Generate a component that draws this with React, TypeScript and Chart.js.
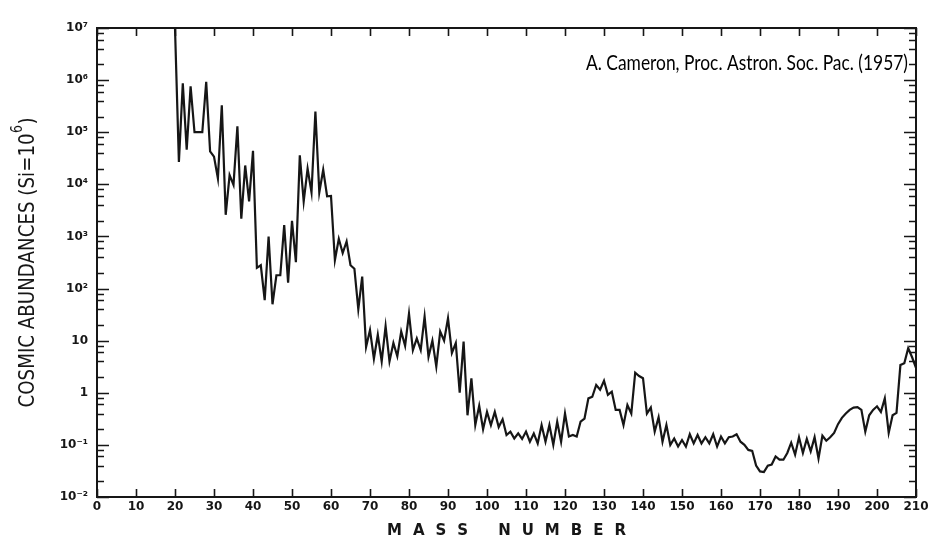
import { useEffect, useRef } from 'react';
import { Chart, registerables } from 'chart.js';

Chart.register(...registerables);

// Cosmic abundances (Si = 10^6) for mass numbers 20 through 210.
const firstMassNumber = 20;
const abundances: number[] = [
  // 20-29
  1.0e7, 2.7e4, 8.7e5, 4.6e4, 7.6e5, 1.0e5, 1.0e5, 1.0e5, 9.3e5, 4.3e4,
  // 30-39
  3.4e4, 1.3e4, 3.3e5, 2.6e3, 1.5e4, 9.8e3, 1.3e5, 2.2e3, 2.3e4, 4.7e3,
  // 40-49
  4.4e4, 250, 280, 60, 1000, 50, 180, 180, 1650, 130,
  // 50-59
  2000, 320, 3.6e4, 4.7e3, 2.0e4, 7.0e3, 2.5e5, 7.0e3, 1.9e4, 5.9e3,
  // 60-69
  6.0e3, 350, 900, 480, 800, 280, 240, 40, 170, 7.6,
  // 70-79
  16, 4.5, 13, 4, 19, 4, 9, 5, 15, 8,
  // 80-89
  33, 6.6, 11, 6.6, 29, 4.9, 10, 3.2, 15, 10,
  // 90-99
  27, 5.8, 9, 1.0, 9.6, 0.37, 1.9, 0.24, 0.56, 0.2,
  // 100-109
  0.43, 0.24, 0.43, 0.22, 0.31, 0.155, 0.18, 0.133, 0.166, 0.13,
  // 110-119
  0.18, 0.115, 0.166, 0.107, 0.24, 0.115, 0.24, 0.1, 0.28, 0.115,
  // 120-129
  0.4, 0.145, 0.155, 0.145, 0.28, 0.32, 0.78, 0.84, 1.41, 1.15,
  // 130-139
  1.7, 0.91, 1.05, 0.47, 0.47, 0.24, 0.58, 0.4, 2.43, 2.1,
  // 140-149
  1.9, 0.4, 0.52, 0.18, 0.34, 0.115, 0.24, 0.1, 0.133, 0.093,
  // 150-159
  0.124, 0.093, 0.16, 0.107, 0.155, 0.107, 0.14, 0.107, 0.16, 0.093,
  // 160-169
  0.145, 0.107, 0.14, 0.145, 0.16, 0.115, 0.1, 0.08, 0.077, 0.04,
  // 170-179
  0.031, 0.03, 0.04, 0.042, 0.06, 0.052, 0.052, 0.07, 0.11, 0.065,
  // 180-189
  0.14, 0.07, 0.13, 0.075, 0.14, 0.055, 0.15, 0.12, 0.14, 0.17,
  // 190-199
  0.25, 0.33, 0.4, 0.47, 0.52, 0.53, 0.47, 0.18, 0.37, 0.47,
  // 200-210
  0.55, 0.43, 0.78, 0.17, 0.37, 0.41, 3.4, 3.7, 7.2, 4.8, 3.0,
];
const massNumbers = abundances.map((_, i) => firstMassNumber + i);

const xTickValues = [0, 10, 20, 30, 40, 50, 60, 70, 80, 90, 100, 110, 120, 130, 140, 150, 160, 170, 180, 190, 200, 210];
const yTickValues = [1e-2, 1e-1, 1, 10, 1e2, 1e3, 1e4, 1e5, 1e6, 1e7];
const yTickLabels = ['10⁻²', '10⁻¹', '1', '10', '10²', '10³', '10⁴', '10⁵', '10⁶', '10⁷'];
const minorMultipliers = [2, 4, 6, 8];

const yAxisTitle = { main: 'COSMIC ABUNDANCES (Si=10', sup: '6', tail: ')' };
const xAxisTitle = 'MASS NUMBER';
const citation = 'A. Cameron, Proc. Astron. Soc. Pac. (1957)';

const INK = '#161616';
const LETTER_FONT = '"DejaVu Sans"';

// Frame, inward tick marks and the hand-lettered titles.
const decorations = {
  id: 'decorations',
  afterDatasetsDraw(chart: any) {
    const { ctx, chartArea, scales } = chart;
    const { left, right, top, bottom } = chartArea;
    const xs = scales.x;
    const ys = scales.y;
    ctx.save();
    ctx.strokeStyle = INK;
    ctx.fillStyle = INK;

    ctx.lineWidth = 2;
    ctx.strokeRect(left, top, right - left, bottom - top);

    ctx.lineWidth = 1.6;
    ctx.beginPath();
    for (const v of xTickValues) {
      const px = Math.round(xs.getPixelForValue(v)) + 0.5;
      ctx.moveTo(px, bottom);
      ctx.lineTo(px, bottom - 8);
      ctx.moveTo(px, top);
      ctx.lineTo(px, top + 8);
    }
    for (const v of yTickValues) {
      const py = Math.round(ys.getPixelForValue(v)) + 0.5;
      ctx.moveTo(left, py);
      ctx.lineTo(left + 12, py);
      ctx.moveTo(right, py);
      ctx.lineTo(right - 12, py);
      for (const m of minorMultipliers) {
        const mv = v * m;
        if (mv > ys.max) continue;
        const pm = Math.round(ys.getPixelForValue(mv)) + 0.5;
        ctx.moveTo(left, pm);
        ctx.lineTo(left + 7, pm);
        ctx.moveTo(right, pm);
        ctx.lineTo(right - 7, pm);
      }
    }
    ctx.stroke();

    // Vertical axis title, condensed lettering
    const mainFont = `22px ${LETTER_FONT}`;
    const supFont = `15px ${LETTER_FONT}`;
    ctx.font = mainFont;
    const wMain = ctx.measureText(yAxisTitle.main).width;
    const wTail = ctx.measureText(yAxisTitle.tail).width;
    ctx.font = supFont;
    const wSup = ctx.measureText(yAxisTitle.sup).width;
    const natural = wMain + wSup + 1 + wTail;
    const span = 290;
    ctx.save();
    ctx.translate(28, (top + bottom) / 2);
    ctx.rotate(-Math.PI / 2);
    ctx.scale(span / natural, 1);
    ctx.textBaseline = 'middle';
    ctx.textAlign = 'left';
    let cx = -natural / 2;
    ctx.font = mainFont;
    ctx.fillText(yAxisTitle.main, cx, 0);
    cx += wMain;
    ctx.font = supFont;
    ctx.fillText(yAxisTitle.sup, cx + 0.5, -10);
    cx += wSup + 1;
    ctx.font = mainFont;
    ctx.fillText(yAxisTitle.tail, cx, 0);
    ctx.restore();

    // Horizontal axis title, widely letter-spaced
    ctx.font = `bold 15px ${LETTER_FONT}`;
    ctx.textBaseline = 'middle';
    ctx.textAlign = 'left';
    const spacing = 11;
    const chars = xAxisTitle.split('');
    const widths = chars.map((c) => (c === ' ' ? 8 : ctx.measureText(c).width));
    const total = widths.reduce((a, b) => a + b, 0) + spacing * (chars.length - 1);
    let tx = (left + right) / 2 - total / 2;
    chars.forEach((c, i) => {
      if (c !== ' ') ctx.fillText(c, tx, 531);
      tx += widths[i] + spacing;
    });

    // Citation in the upper right corner
    ctx.fillStyle = '#000';
    ctx.font = '21px Lato, "Open Sans", sans-serif';
    ctx.textAlign = 'right';
    ctx.textBaseline = 'alphabetic';
    ctx.fillText(citation, right - 8, top + 42, 322);

    ctx.restore();
  },
};

export default function App() {
  const canvasRef = useRef<HTMLCanvasElement | null>(null);

  useEffect(() => {
    const canvas = canvasRef.current;
    if (!canvas) return;
    const tickFont = { family: LETTER_FONT, size: 12, weight: 'bold' as const };
    const chart = new Chart(canvas, {
      type: 'line',
      data: {
        datasets: [
          {
            label: 'Cosmic abundance',
            data: massNumbers.map((m, i) => ({ x: m, y: abundances[i] })),
            borderColor: INK,
            borderWidth: 2.2,
            pointRadius: 0,
            tension: 0,
            fill: false,
          },
        ],
      },
      options: {
        responsive: false,
        animation: false,
        devicePixelRatio: 1,
        layout: { padding: { top: 28, right: 20, left: 0, bottom: 0 } },
        plugins: {
          legend: { display: false },
          tooltip: { enabled: false },
          title: { display: false },
        },
        scales: {
          x: {
            type: 'linear',
            min: 0,
            max: 210,
            afterBuildTicks: (scale: any) => {
              scale.ticks = xTickValues.map((value) => ({ value }));
            },
            afterFit: (scale: any) => {
              scale.height = 50;
            },
            grid: { display: false, drawTicks: false },
            border: { display: false },
            ticks: {
              autoSkip: false,
              maxRotation: 0,
              padding: 3,
              color: INK,
              font: tickFont,
              callback: (value: any) => String(value),
            },
          },
          y: {
            type: 'logarithmic',
            min: 1e-2,
            max: 1e7,
            afterBuildTicks: (scale: any) => {
              scale.ticks = yTickValues.map((value) => ({ value }));
            },
            afterFit: (scale: any) => {
              scale.width = 97;
            },
            grid: { display: false, drawTicks: false },
            border: { display: false },
            ticks: {
              autoSkip: false,
              padding: 9,
              color: INK,
              font: tickFont,
              callback: (_value: any, index: number) => yTickLabels[index],
            },
          },
        },
      },
      plugins: [decorations],
    });
    return () => chart.destroy();
  }, []);

  return (
    <div style={{ position: 'absolute', left: 0, top: 0, width: 936, height: 547, background: '#fff' }}>
      <canvas ref={canvasRef} width={936} height={547} style={{ display: 'block' }} />
    </div>
  );
}
